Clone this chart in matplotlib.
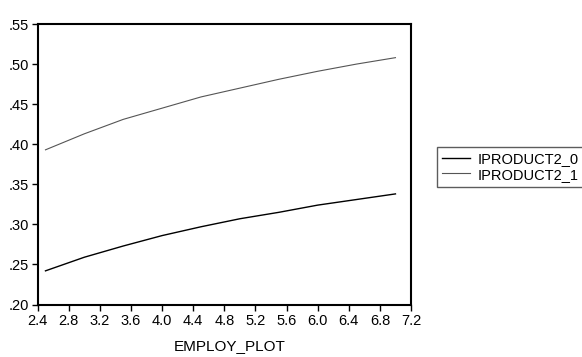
import numpy as np
import matplotlib
matplotlib.use("Agg")
import matplotlib.pyplot as plt
from matplotlib.ticker import FuncFormatter

# ── Data ────────────────────────────────────────────────────────
employ_plot   = [2.5, 3.0, 3.5, 4.0, 4.5, 5.0, 5.5, 6.0, 6.5, 7.0]
iproduct2_0   = [0.242, 0.259, 0.273, 0.286, 0.297, 0.307, 0.315, 0.324, 0.331, 0.338]
iproduct2_1   = [0.393, 0.413, 0.431, 0.445, 0.459, 0.470, 0.481, 0.491, 0.500, 0.508]
x_ticks       = [2.4, 2.8, 3.2, 3.6, 4.0, 4.4, 4.8, 5.2, 5.6, 6.0, 6.4, 6.8, 7.2]
y_ticks       = [0.20, 0.25, 0.30, 0.35, 0.40, 0.45, 0.50, 0.55]

plt.rcParams['font.family'] = ['Liberation Sans', 'DejaVu Sans']

W, H = 582, 357
fig = plt.figure(figsize=(W / 100, H / 100), dpi=100)
ax = fig.add_axes([37.7 / W, 1 - 304.5 / H, (411 - 37.7) / W, 280.5 / H])

ax.plot(employ_plot, iproduct2_0, color='black', lw=1.0, label='IPRODUCT2_0')
ax.plot(employ_plot, iproduct2_1, color='#555555', lw=0.8, label='IPRODUCT2_1')

ax.set_xlim(2.4, 7.2)
ax.set_ylim(0.20, 0.55)
ax.set_xticks(x_ticks)
ax.set_yticks(y_ticks)
ax.xaxis.set_major_formatter(FuncFormatter(lambda v, p: f'{v:.1f}'))
ax.yaxis.set_major_formatter(FuncFormatter(lambda v, p: f'{v:.2f}'.lstrip('0')))
ax.tick_params(axis='both', direction='out', length=4, width=1, labelsize=10.5)
ax.tick_params(axis='x', pad=3)
ax.tick_params(axis='y', pad=2.5)
for s in ax.spines.values():
    s.set_linewidth(1.5)

fig.text(230 / W, 1 - 350 / H, 'EMPLOY_PLOT', ha='center', va='baseline', fontsize=11)

leg = fig.legend(loc='upper left', bbox_to_anchor=(437 / W, 1 - 147 / H),
                 fontsize=10.5, frameon=True, fancybox=False, shadow=False,
                 handlelength=1.9, handletextpad=0.55, borderpad=0.35,
                 labelspacing=0.1, borderaxespad=0)
leg.get_frame().set_edgecolor('#333333')
leg.get_frame().set_linewidth(1.0)

fig.savefig('out.png', dpi=100)
